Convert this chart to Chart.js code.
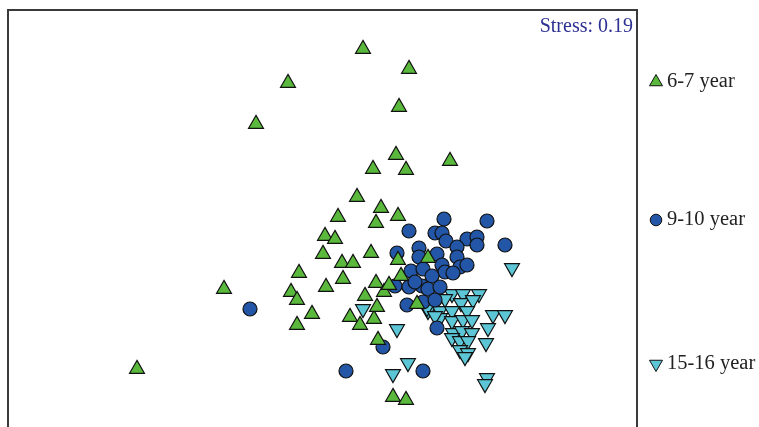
<!DOCTYPE html>
<html>
<head>
<meta charset="utf-8">
<script src="https://cdn.jsdelivr.net/npm/chart.js@4/dist/chart.umd.min.js"></script>
<style>
  html, body { margin: 0; padding: 0; background: #fff; overflow: hidden; }
  #wrap { width: 759px; height: 427px; }
</style>
</head>
<body>
<div id="wrap"><canvas id="nmds" width="759" height="427"></canvas></div>
<script>
// NMDS ordination, three age groups
const groups = ["6-7 year", "9-10 year", "15-16 year"]
const stressLabel = "Stress: 0.19"

// 6-7 year
const age67X = [0.43, 0.89, -0.32, 0.79, -0.64, 0.76, 0.53, 0.86, 1.30, 0.37, 0.61, 0.18, 0.56, 0.78, 0.05,
  0.15, 0.51, 0.03, 0.22, 0.33, -0.21, 0.23, 0.06, 0.56, 0.81, 0.64, 0.69, 0.45, -0.96, -0.29, -0.23, -0.08,
  -0.23, 0.30, 0.54, 0.40, 0.57, 0.58, -1.83, 0.73, 0.86, 1.08, 0.78, 0.97]
const age67Y = [1.71, 1.51, 1.37, 1.13, 0.96, 0.65, 0.51, 0.50, 0.59, 0.23, 0.12, 0.03, -0.03, 0.04, -0.16,
  -0.19, -0.33, -0.34, -0.43, -0.43, -0.53, -0.59, -0.67, -0.63, -0.56, -0.72, -0.65, -0.76, -0.69, -0.72, -0.80, -0.94,
  -1.05, -0.97, -0.99, -1.05, -0.87, -1.20, -1.49, -1.77, -1.80, -0.38, -0.40, -0.84]

// 9-10 year
const age910X = [1.24, 1.67, 0.89, 1.15, 1.22, 1.26, 1.47, 1.57, 1.57, 1.85, 1.37, 0.99, 0.77, 0.99, 1.17,
  1.37, 1.22, 1.40, 1.47, 0.91, 1.03, 1.25, 1.33, 1.12, 0.75, 0.89, 1.02, 1.08, 1.20, 0.95, 0.87, 1.03,
  1.15, 1.17, 0.63, 0.26, 1.03, -0.70]
const age910Y = [0.01, -0.01, -0.11, -0.13, -0.13, -0.21, -0.19, -0.17, -0.25, -0.25, -0.27, -0.28, -0.33, -0.37, -0.34,
  -0.37, -0.45, -0.47, -0.45, -0.51, -0.49, -0.52, -0.53, -0.56, -0.66, -0.67, -0.66, -0.69, -0.67, -0.62, -0.85, -0.82,
  -0.80, -1.08, -1.27, -1.51, -1.51, -0.89]

// 15-16 year
const age1516X = [1.92, 0.43, 0.77, 0.88, 0.73, 1.67, 1.65, 1.32, 1.43, 1.59, 1.25, 1.41, 1.53, 1.08, 1.20,
  1.32, 1.47, 1.20, 1.32, 1.43, 1.52, 1.73, 1.85, 1.68, 1.33, 1.42, 1.52, 1.32, 1.40, 1.48, 1.66, 1.40,
  1.48, 1.45, 1.07, 1.15]
const age1516Y = [-0.48, -0.89, -1.09, -1.43, -1.54, -1.58, -1.64, -0.74, -0.74, -0.74, -0.79, -0.83, -0.80, -0.91, -0.91,
  -0.91, -0.91, -0.98, -1.01, -1.00, -1.00, -0.95, -0.95, -1.08, -1.13, -1.11, -1.13, -1.18, -1.21, -1.21, -1.23, -1.30,
  -1.33, -1.37, -0.88, -0.96]

const toPoints = (xs, ys) => xs.map((x, i) => ({ x: x, y: ys[i] }))

const styles = [
  { pointStyle: "triangle", radius: 8.6, rotation: 0, fill: "#5ab93c", legendRadius: 7.5 },
  { pointStyle: "circle", radius: 7, rotation: 0, fill: "#2356a6", legendRadius: 5.8 },
  { pointStyle: "triangle", radius: 8.6, rotation: 180, fill: "#5cc6d6", legendRadius: 7.5 }
]

const seriesData = [toPoints(age67X, age67Y), toPoints(age910X, age910Y), toPoints(age1516X, age1516Y)]
const legendY = [82, 220, 364]

// draws frame, stress label and the outside legend
const decorations = {
  id: "decorations",
  afterDraw(chart) {
    const { ctx, chartArea } = chart
    ctx.save()
    ctx.strokeStyle = "#3a3a3a"
    ctx.lineWidth = 2
    ctx.strokeRect(chartArea.left, chartArea.top, chartArea.right - chartArea.left, chartArea.bottom - chartArea.top + 20)

    ctx.font = "20px 'Liberation Serif', 'DejaVu Serif', serif"
    ctx.fillStyle = "#2e3192"
    ctx.textAlign = "right"
    ctx.textBaseline = "middle"
    ctx.fillText(stressLabel, chartArea.right - 4, 27)

    ctx.font = "20.5px 'Liberation Serif', 'DejaVu Serif', serif"
    ctx.textAlign = "left"
    groups.forEach((name, i) => {
      const s = styles[i]
      ctx.fillStyle = s.fill
      ctx.strokeStyle = "#111"
      ctx.lineWidth = 1
      Chart.helpers.drawPoint(ctx, {
        pointStyle: s.pointStyle,
        radius: s.legendRadius,
        rotation: s.rotation,
        borderWidth: 1
      }, 656, legendY[i])
      ctx.fillStyle = "#222"
      ctx.fillText(name, 667, legendY[i])
    })
    ctx.restore()
  }
}

new Chart(document.getElementById("nmds"), {
  type: "scatter",
  data: {
    datasets: groups.map((name, i) => ({
      label: name,
      data: seriesData[i],
      pointStyle: styles[i].pointStyle,
      pointRadius: styles[i].radius,
      rotation: styles[i].rotation,
      backgroundColor: styles[i].fill,
      borderColor: "#111",
      borderWidth: 1.2
    }))
  },
  options: {
    responsive: false,
    animation: false,
    layout: { autoPadding: false, padding: { left: 8, top: 10, right: 122, bottom: 0 } },
    plugins: {
      legend: { display: false },
      tooltip: { enabled: false }
    },
    scales: {
      x: { type: "linear", min: -3.12, max: 3.17, display: false },
      y: { type: "linear", min: -2.07, max: 2.1, display: false }
    }
  },
  plugins: [decorations]
})
</script>
</body>
</html>
